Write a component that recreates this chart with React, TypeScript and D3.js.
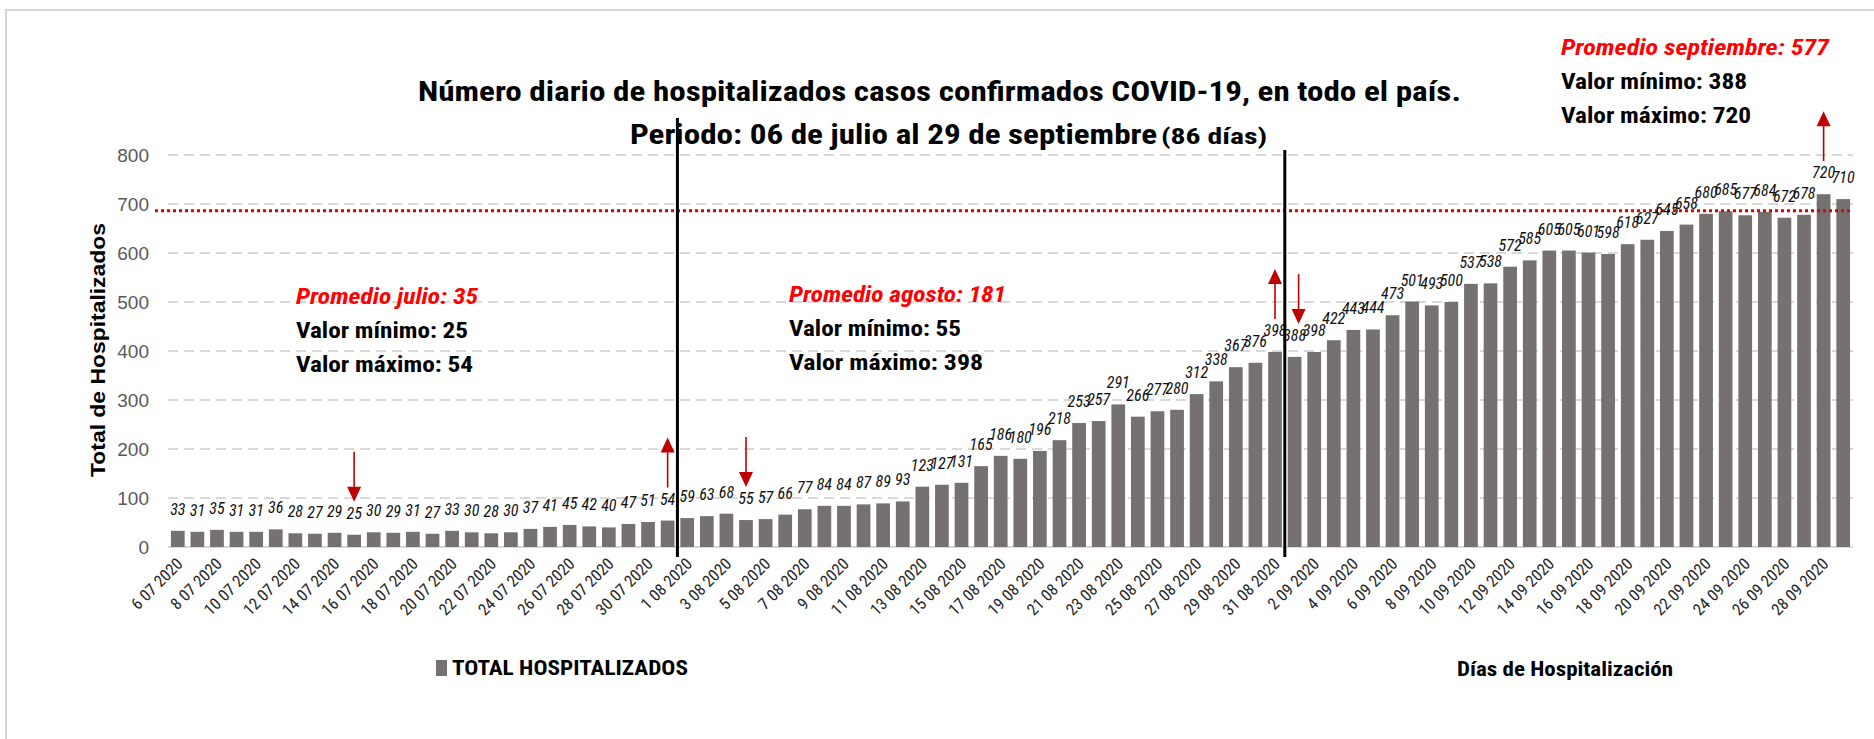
import React from "react";
import * as d3 from "d3";

const july = [33, 31, 35, 31, 31, 36, 28, 27, 29, 25, 30, 29, 31, 27, 33, 30, 28, 30, 37, 41, 45, 42, 40, 47, 51, 54];
const august = [59, 63, 68, 55, 57, 66, 77, 84, 84, 87, 89, 93, 123, 127, 131, 165, 186, 180, 196, 218, 253, 257, 291, 266, 277, 280, 312, 338, 367, 376, 398];
const september = [388, 398, 422, 443, 444, 473, 501, 493, 500, 537, 538, 572, 585, 605, 605, 601, 598, 618, 627, 645, 658, 680, 685, 677, 684, 672, 678, 720, 710];

const months = [
  { mm: "07", first: 6, values: july },
  { mm: "08", first: 1, values: august },
  { mm: "09", first: 1, values: september },
];
const categories: string[] = [];
months.forEach((m) => m.values.forEach((_, i) => categories.push(`${m.first + i} ${m.mm} 2020`)));
const values = [...july, ...august, ...september];

const yTicks = [0, 100, 200, 300, 400, 500, 600, 700, 800];
const redLineValue = 686;
const monthBreaks = [26, 57];
const arrows = [
  { index: 9, dir: "down" },
  { index: 25, dir: "up" },
  { index: 29, dir: "down" },
  { index: 56, dir: "up" },
  { index: 57, dir: "down" },
  { index: 84, dir: "up" },
];
const notes = [
  { x: 296, y: 296, lines: ["Promedio julio: 35", "Valor mínimo: 25", "Valor máximo: 54"], w: [182, 172, 177] },
  { x: 789, y: 294, lines: ["Promedio agosto: 181", "Valor mínimo: 55", "Valor máximo: 398"], w: [217, 172, 194] },
  { x: 1561, y: 47, lines: ["Promedio septiembre: 577", "Valor mínimo: 388", "Valor máximo: 720"], w: [268, 186, 190] },
];

const W = 1874;
const H = 739;
const x0 = 168;
const x1 = 1853;
const NARROW = "'Liberation Sans Narrow', 'Arial Narrow', 'Roboto Condensed', sans-serif";
const SANS = "'Liberation Sans', Arial, sans-serif";
const BAR = "#757171";
const RED = "#c00000";

export default function App() {
  const x = d3.scaleBand<number>().domain(d3.range(values.length)).range([x0, x1]).paddingInner(0.3).paddingOuter(0.15);
  const y = d3.scaleLinear().domain([0, 800]).range([547, 155]);
  const bw = x.bandwidth();
  const step = x.step();
  const cx = (i: number) => (x(i) as number) + bw / 2;

  return (
    <svg width={W} height={H} style={{ position: "absolute", left: 0, top: 0, background: "#fff" }}>
      <rect x={0} y={0} width={W} height={H} fill="#fff" />
      <rect x={6} y={10} width={W + 20} height={H + 20} fill="none" stroke="#d4d4d4" strokeWidth={2} />

      {/* gridlines */}
      {yTicks.map((t) =>
        t === 0 ? (
          <line key={t} x1={x0} x2={x1} y1={y(t)} y2={y(t)} stroke="#d9d9d9" strokeWidth={2} />
        ) : (
          <line key={t} x1={x0} x2={x1} y1={y(t)} y2={y(t)} stroke="#d9d9d9" strokeWidth={2} strokeDasharray="10 6" />
        )
      )}
      {yTicks.map((t) => (
        <text key={"l" + t} x={149} y={y(t) + 7} textAnchor="end" fontFamily={SANS} fontSize={19} fill="#595959">
          {t}
        </text>
      ))}
      <text
        transform={`translate(105, ${350}) rotate(-90)`}
        textAnchor="middle"
        fontFamily={SANS}
        fontWeight="bold"
        fontSize={20}
        fill="#000"
        textLength={254}
        lengthAdjust="spacingAndGlyphs"
      >
        Total de Hospitalizados
      </text>

      {/* bars */}
      {values.map((v, i) => (
        <rect key={i} x={x(i)} y={y(v)} width={bw} height={y(0) - y(v)} fill={BAR} />
      ))}

      {/* red average line */}
      <line x1={155} x2={x1} y1={y(redLineValue)} y2={y(redLineValue)} stroke="#e00000" strokeWidth={3} strokeDasharray="3 3" />

      {/* value labels */}
      {values.map((v, i) => (
        <text
          key={"v" + i}
          x={cx(i)}
          y={y(v) - 16}
          textAnchor="middle"
          fontFamily={NARROW}
          fontStyle="italic"
          fontSize={16}
          fill="#111"
        >
          {v}
        </text>
      ))}

      {/* month separators */}
      {monthBreaks.map((b, k) => {
        const xb = (x(b - 1) as number) + bw + (step - bw) / 2;
        return <line key={"m" + b} x1={xb} x2={xb} y1={k === 0 ? 118 : 150} y2={557} stroke="#000" strokeWidth={3} />;
      })}

      {/* arrows */}
      {arrows.map((a, k) => {
        const v = values[a.index];
        const ax = cx(a.index) + (a.dir === "down" && a.index > 50 ? 4 : 0);
        const bottom = y(v) - 33;
        const top = bottom - 50;
        if (a.dir === "up") {
          return (
            <g key={"a" + k}>
              <line x1={ax} x2={ax} y1={top + 12} y2={bottom} stroke={RED} strokeWidth={1.6} />
              <polygon points={`${ax},${top} ${ax - 7},${top + 15} ${ax + 7},${top + 15}`} fill={RED} />
            </g>
          );
        }
        return (
          <g key={"a" + k}>
            <line x1={ax} x2={ax} y1={top} y2={bottom - 12} stroke={RED} strokeWidth={1.6} />
            <polygon points={`${ax},${bottom} ${ax - 7},${bottom - 15} ${ax + 7},${bottom - 15}`} fill={RED} />
          </g>
        );
      })}

      {/* x tick labels */}
      {categories.map((c, i) =>
        i % 2 === 0 ? (
          <text
            key={"c" + i}
            transform={`translate(${cx(i) + 6}, 565) rotate(-45)`}
            textAnchor="end"
            fontFamily={NARROW}
            fontSize={16.5}
            fill="#262626"
          >
            {c}
          </text>
        ) : null
      )}

      {/* title */}
      <text x={418} y={101} fontFamily={NARROW} fontWeight="bold" fontSize={28} fill="#000" textLength={1043} lengthAdjust="spacingAndGlyphs">
        Número diario de hospitalizados casos confirmados COVID-19, en todo el país.
      </text>
      <text x={630} y={144} fontFamily={NARROW} fontWeight="bold" fontSize={28} fill="#000" textLength={527} lengthAdjust="spacingAndGlyphs">
        Periodo: 06 de julio al 29 de septiembre
      </text>
      <text x={1161} y={144} fontFamily={NARROW} fontWeight="bold" fontSize={22} fill="#000" textLength={106} lengthAdjust="spacingAndGlyphs">
        (86 días)
      </text>

      {/* month notes */}
      {notes.map((n, k) => (
        <g key={"n" + k}>
          {n.lines.map((l, j) => (
            <text
              key={j}
              x={n.x}
              y={n.y + j * 34 + 8}
              fontFamily={NARROW}
              fontWeight="bold"
              fontStyle={j === 0 ? "italic" : "normal"}
              fontSize={22}
              fill={j === 0 ? "#ff0000" : "#000"}
              textLength={n.w[j]}
              lengthAdjust="spacingAndGlyphs"
            >
              {l}
            </text>
          ))}
        </g>
      ))}

      {/* legend */}
      <rect x={436} y={660} width={11} height={16} fill={BAR} />
      <text x={452} y={675} fontFamily={NARROW} fontWeight="bold" fontSize={21} fill="#000" textLength={236} lengthAdjust="spacingAndGlyphs">
        TOTAL HOSPITALIZADOS
      </text>
      <text x={1457} y={676} fontFamily={NARROW} fontWeight="bold" fontSize={21} fill="#000" textLength={216} lengthAdjust="spacingAndGlyphs">
        Días de Hospitalización
      </text>
    </svg>
  );
}
